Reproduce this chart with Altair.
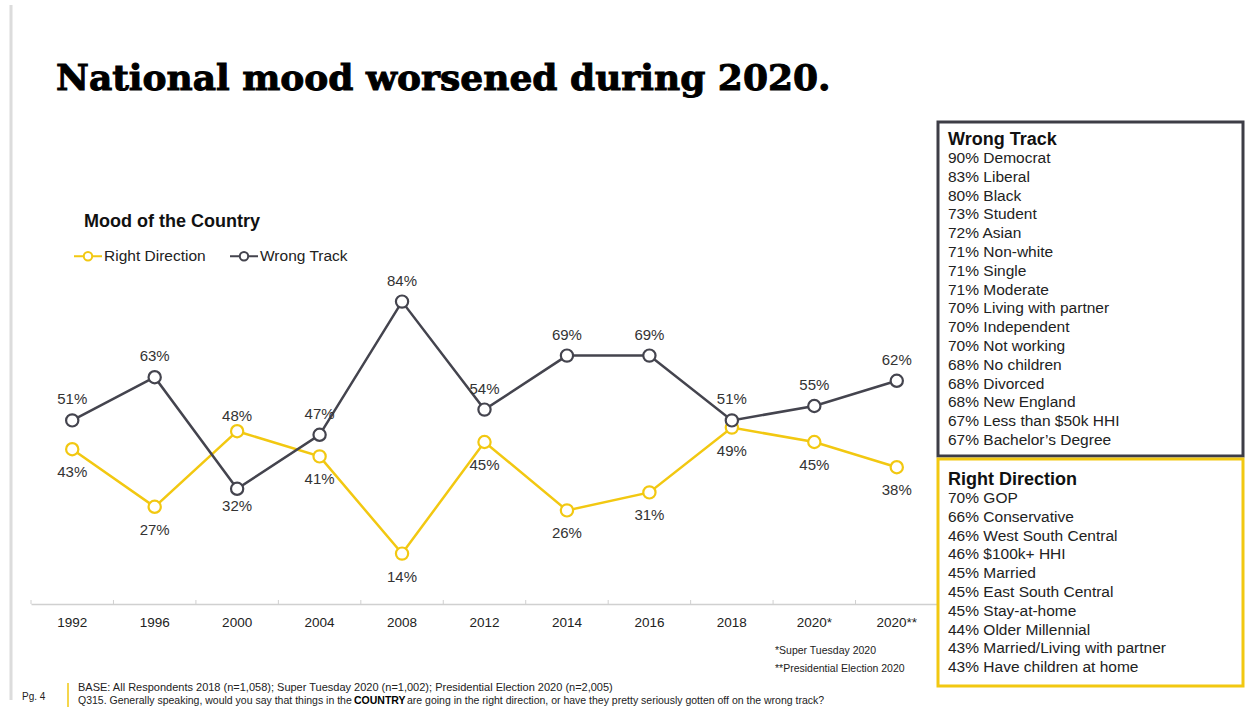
import altair as alt
import pandas as pd

# ---- data ----
years = ["1992", "1996", "2000", "2004", "2008", "2012", "2014", "2016", "2018", "2020*", "2020**"]
right_direction = [43, 27, 48, 41, 14, 45, 26, 31, 49, 45, 38]
wrong_track = [51, 63, 32, 47, 84, 54, 69, 69, 51, 55, 62]
series_names = ["Right Direction", "Wrong Track"]
series_colors = ["#F2C811", "#44444E"]

wrong_box_title = "Wrong Track"
wrong_box_lines = [
    "90% Democrat", "83% Liberal", "80% Black", "73% Student", "72% Asian",
    "71% Non-white", "71% Single", "71% Moderate", "70% Living with partner",
    "70% Independent", "70% Not working", "68% No children", "68% Divorced",
    "68% New England", "67% Less than $50k HHI", "67% Bachelor\u2019s Degree",
]
right_box_title = "Right Direction"
right_box_lines = [
    "70% GOP", "66% Conservative", "46% West South Central", "46% $100k+ HHI",
    "45% Married", "45% East South Central", "45% Stay-at-home",
    "44% Older Millennial", "43% Married/Living with partner", "43% Have children at home",
]
title_text = "National mood worsened during 2020."
chart_subtitle = "Mood of the Country"
footnotes = ["*Super Tuesday 2020", "**Presidential Election 2020"]
base_text = "BASE: All Respondents 2018 (n=1,058); Super Tuesday 2020 (n=1,002); Presidential Election 2020 (n=2,005)"
q_parts = ["Q315. Generally speaking, would you say that things in the ", "COUNTRY",
           " are going in the right direction, or have they pretty seriously gotten off on the wrong track?"]
page_text = "Pg. 4"

# ---- table ----
rows = []
for i, y in enumerate(years):
    r, w = right_direction[i], wrong_track[i]
    rows.append({"year": y, "series": series_names[0], "value": r, "top": r > w, "ord": 0})
for i, y in enumerate(years):
    r, w = right_direction[i], wrong_track[i]
    rows.append({"year": y, "series": series_names[1], "value": w, "top": w >= r, "ord": 1})
df = pd.DataFrame(rows)
df["label"] = df["value"].astype(str) + "%"

W, H = 907, 360
OX, OY = 31, 244  # plot origin in page pixels
FONT = "Liberation Sans"

x_axis = alt.Axis(title=None, ticks=False, labelAngle=0, labelAlign="center",
                  bandPosition=0.5, labelFontSize=13.5,
                  labelColor="#222222", labelFont=FONT, labelPadding=11,
                  domainColor="#D0D0D0", domainWidth=1.5, grid=False)
x_scale = alt.Scale(type="band", paddingInner=0, paddingOuter=0)
x_enc = alt.X("year:N", sort=years, scale=x_scale, axis=x_axis)
y_enc = alt.Y("value:Q", scale=alt.Scale(domain=[0, 100], nice=False, zero=True), axis=None)

legend_symbol = "M-1,0H-0.3M0.3,0H1M0.3,0A0.3,0.3,0,1,1,-0.3,0A0.3,0.3,0,1,1,0.3,0"
color_enc = alt.Color("series:N", sort=series_names,
                      scale=alt.Scale(domain=series_names, range=series_colors),
                      legend=alt.Legend(title=None, orient="none", legendX=42, legendY=-3,
                                        direction="horizontal", symbolType=legend_symbol,
                                        symbolSize=784, symbolStrokeWidth=2,
                                        symbolFillColor="white", labelFontSize=15.5,
                                        labelFont=FONT, labelColor="#222222",
                                        labelOffset=1, columnPadding=20, padding=0))

base = alt.Chart(df)

lines = base.mark_line(strokeWidth=2.5).encode(x=x_enc, y=y_enc, color=color_enc,
                                               order=alt.Order("ord:Q"))
points = base.mark_point(filled=True, fill="white", size=150, strokeWidth=2.2, opacity=1).encode(
    x=x_enc, y=y_enc,
    stroke=alt.Stroke("series:N", scale=alt.Scale(domain=series_names, range=series_colors), legend=None),
    order=alt.Order("ord:Q"))

ticks = alt.Chart(pd.DataFrame({"year": years})).mark_rule(color="#D0D0D0", strokeWidth=1).encode(
    x=alt.X("year:N", sort=years, scale=x_scale, axis=x_axis, bandPosition=0),
    y=alt.value(H), y2=alt.value(H - 4))

LBL = dict(fontSize=15, font=FONT, color="#333333")
lab_w_above = base.transform_filter("datum.top && datum.ord == 1").mark_text(dy=-21, **LBL).encode(
    x=x_enc, y=y_enc, text="label:N")
lab_w_below = base.transform_filter("!datum.top && datum.ord == 1").mark_text(dy=17, **LBL).encode(
    x=x_enc, y=y_enc, text="label:N")
lab_r_above = base.transform_filter("datum.top && datum.ord == 0").mark_text(dy=-15, **LBL).encode(
    x=x_enc, y=y_enc, text="label:N")
lab_r_below = base.transform_filter("!datum.top && datum.ord == 0").mark_text(dy=23, **LBL).encode(
    x=x_enc, y=y_enc, text="label:N")

one = pd.DataFrame({"k": [0]})


def txt(text, x, y, size, bold=False, color="#222222", font=FONT, baseline="middle", lh=None, **extra):
    kw = dict(align="left", baseline=baseline, fontSize=size, font=font, color=color,
              fontWeight="bold" if bold else "normal")
    if lh is not None:
        kw["lineHeight"] = lh
    kw.update(extra)
    return alt.Chart(one).mark_text(**kw).encode(
        x=alt.value(x - OX), y=alt.value(y - OY), text=alt.value(text))


def box(x1, y1, x2, y2, color, sw):
    return alt.Chart(one).mark_rect(fill="white", fillOpacity=0, stroke=color, strokeWidth=sw).encode(
        x=alt.value(x1 - OX), x2=alt.value(x2 - OX), y=alt.value(y1 - OY), y2=alt.value(y2 - OY))


def vline(x, y1, y2, color, sw):
    return alt.Chart(one).mark_rule(color=color, strokeWidth=sw).encode(
        x=alt.value(x - OX), y=alt.value(y1 - OY), y2=alt.value(y2 - OY))


layers = [
    vline(11, 5, 700, "#DCDCDC", 3),
    vline(68, 683, 707, series_colors[0], 1.5),
    txt(title_text, 56, 90, 36, bold=True, color="#000000", font="DejaVu Serif", baseline="alphabetic",
        stroke="#000000", strokeWidth=1),
    txt(chart_subtitle, 84, 222, 18, bold=True, color="#111111"),
    box(938, 122, 1243, 456, "#3D3D46", 3),
    box(938, 459, 1243, 686, series_colors[0], 3),
    txt(wrong_box_title, 948, 145, 18, bold=True, color="#111111", baseline="alphabetic"),
    txt(wrong_box_lines, 948, 163, 15.5, baseline="alphabetic", lh=18.8),
    txt(right_box_title, 948, 485, 18, bold=True, color="#111111", baseline="alphabetic"),
    txt(right_box_lines, 948, 503, 15.5, baseline="alphabetic", lh=18.8),
    txt(footnotes[0], 775, 651, 10.5),
    txt(footnotes[1], 775, 669, 10.5),
    txt(page_text, 22, 697, 10),
    txt(base_text, 78, 688, 11),
    txt(q_parts[0], 78, 701, 10.5),
    txt(q_parts[1], 354, 701, 10.5, bold=True, color="#000000"),
    txt(q_parts[2], 407, 701, 10.5),
    ticks, lines, points, lab_w_above, lab_w_below, lab_r_above, lab_r_below,
]

chart = alt.layer(*layers).properties(
    width=W, height=H,
    autosize=alt.AutoSizeParams(type="none"),
    padding={"left": OX, "top": OY, "right": 1249 - OX - W, "bottom": 707 - OY - H},
    background="white",
).configure_view(stroke=None)

chart.save("out.html", embed_options={"renderer": "svg", "actions": False})
